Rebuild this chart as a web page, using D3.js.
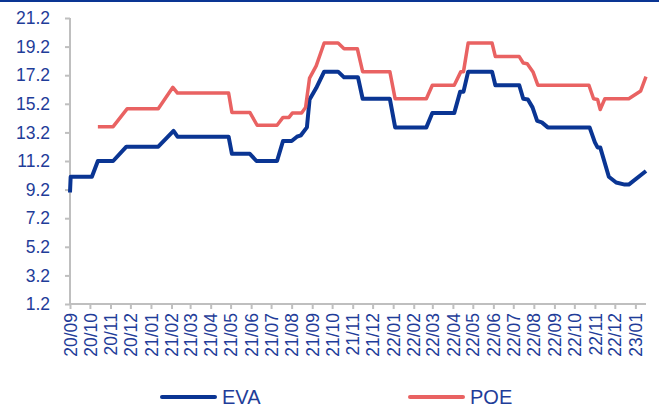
<html>
<head>
<meta charset="utf-8">
<script src="https://d3js.org/d3.v7.min.js"></script>
<style>
body {
	margin: 0;
	background: #fff;
	font-family: Arial, "Liberation Sans", sans-serif;
}
.axis path, .axis line {
	stroke: #bfbfbf;
	stroke-width: 2;
}
.axis text {
	fill: #1f3d99;
	font-size: 17.5px;
	font-family: Arial, "Liberation Sans", sans-serif;
}
</style>
</head>
<body>
<div id="chart"></div>
<script>

// month labels on the x axis
var months = ["20/09","20/10","20/11","20/12","21/01","21/02","21/03","21/04","21/05","21/06",
	"21/07","21/08","21/09","21/10","21/11","21/12","22/01","22/02","22/03","22/04",
	"22/05","22/06","22/07","22/08","22/09","22/10","22/11","22/12","23/01"];

var yTicks = [1.2, 3.2, 5.2, 7.2, 9.2, 11.2, 13.2, 15.2, 17.2, 19.2, 21.2];

// EVA series
var evaDates = ["2020-09-01","2020-09-02","2020-10-04","2020-10-13","2020-11-05","2020-11-25",
	"2021-01-12","2021-02-04","2021-02-10","2021-04-28","2021-05-03","2021-05-30","2021-06-09",
	"2021-07-10","2021-07-19","2021-08-01","2021-08-09","2021-08-15","2021-08-24","2021-08-28",
	"2021-09-07","2021-09-19","2021-10-10","2021-10-19","2021-11-09","2021-11-16","2021-12-27",
	"2022-01-04","2022-02-20","2022-03-01","2022-04-03","2022-04-12","2022-04-17","2022-04-24",
	"2022-05-30","2022-06-04","2022-07-10","2022-07-16","2022-07-23","2022-07-30","2022-08-06",
	"2022-08-13","2022-08-22","2022-10-24","2022-11-01","2022-11-05","2022-11-09","2022-11-22",
	"2022-12-03","2022-12-16","2022-12-22","2023-01-17"];
var evaValues = [9.0, 10.1, 10.1, 11.2, 11.2, 12.2,
	12.2, 13.3, 12.9, 12.9, 11.7, 11.7, 11.2,
	11.2, 12.6, 12.6, 12.9, 13.0, 13.55, 15.5,
	16.3, 17.45, 17.45, 17.05, 17.05, 15.55, 15.55,
	13.55, 13.55, 14.55, 14.55, 16.05, 16.05, 17.45,
	17.45, 16.5, 16.5, 15.55, 15.5, 14.95, 14.0,
	13.9, 13.55, 13.55, 12.5, 12.15, 12.15, 10.1,
	9.7, 9.55, 9.55, 10.5];

// POE series
var poeDates = ["2020-10-13","2020-11-05","2020-11-26","2021-01-12","2021-02-03","2021-02-10",
	"2021-04-28","2021-05-03","2021-05-30","2021-06-10","2021-07-10","2021-07-19","2021-07-28",
	"2021-08-02","2021-08-16","2021-08-22","2021-08-28","2021-09-07","2021-09-19","2021-10-10",
	"2021-10-19","2021-11-08","2021-11-16","2021-12-27","2022-01-04","2022-02-20","2022-03-01",
	"2022-04-03","2022-04-13","2022-04-17","2022-04-24","2022-05-30","2022-06-04","2022-07-10",
	"2022-07-16","2022-07-22","2022-07-31","2022-08-07","2022-10-23","2022-10-30","2022-11-05",
	"2022-11-09","2022-11-16","2022-12-22","2023-01-09","2023-01-17"];
var poeValues = [13.6, 13.6, 14.85, 14.85, 16.35, 15.95,
	15.95, 14.6, 14.6, 13.7, 13.7, 14.25, 14.25,
	14.55, 14.55, 14.95, 17.0, 17.85, 19.45, 19.45,
	19.05, 19.05, 17.45, 17.45, 15.55, 15.55, 16.5,
	16.5, 17.45, 17.45, 19.45, 19.45, 18.5, 18.5,
	18.05, 18.0, 17.4, 16.5, 16.5, 15.55, 15.5,
	14.8, 15.55, 15.55, 16.1, 17.1];

var seriesNames = ["EVA", "POE"];
var colors = ["#0a3593", "#e96262"];

var W = 659, H = 410;
var parse = d3.timeParse("%Y-%m-%d");

var eva = evaDates.map(function(d, i) { return {date: parse(d), value: evaValues[i]}; });
var poe = poeDates.map(function(d, i) { return {date: parse(d), value: poeValues[i]}; });

var x = d3.scaleTime()
	.domain([parse("2020-09-01"), parse("2023-01-17")])
	.range([70, 646]);
var y = d3.scaleLinear()
	.domain([1.2, 21.2])
	.range([304, 18]);

var svg = d3.select("#chart").append("svg")
	.attr("width", W)
	.attr("height", H);

// blue rule at the top
svg.append("rect")
	.attr("x", 0).attr("y", 0)
	.attr("width", W).attr("height", 2)
	.attr("fill", "#0a3593");

// y axis
var yAxis = svg.append("g")
	.attr("class", "axis")
	.attr("transform", "translate(70,0)")
	.call(d3.axisLeft(y).tickValues(yTicks).tickSize(5).tickPadding(15).tickFormat(d3.format(".1f")));
yAxis.select(".domain").attr("d", "M0," + y(21.2) + "V" + y(1.2));

// x axis
var tickDates = months.map(function(m) { return d3.timeParse("%y/%m")(m); });
var xAxis = svg.append("g")
	.attr("class", "axis")
	.attr("transform", "translate(0,304)")
	.call(d3.axisBottom(x).tickValues(tickDates).tickSize(5).tickFormat(d3.timeFormat("%y/%m")));
xAxis.select(".domain").attr("d", "M70,0H646");
xAxis.selectAll("text")
	.attr("transform", "rotate(-90)")
	.attr("text-anchor", "end")
	.attr("x", -9)
	.attr("y", 0)
	.attr("dy", "0.35em");

var line = d3.line()
	.x(function(d) { return x(d.date); })
	.y(function(d) { return y(d.value); });

[eva, poe].forEach(function(data, i) {
	svg.append("path")
		.datum(data)
		.attr("fill", "none")
		.attr("stroke", colors[i])
		.attr("stroke-width", i == 0 ? 4 : 3.5)
		.attr("stroke-linejoin", "round")
		.attr("d", line);
});

// legend
var legendX = [162, 410];
seriesNames.forEach(function(name, i) {
	var lg = svg.append("g").attr("transform", "translate(" + legendX[i] + ",397)");
	lg.append("line")
		.attr("x1", 0).attr("x2", 53)
		.attr("stroke", colors[i])
		.attr("stroke-width", 4)
		.attr("stroke-linecap", "round");
	lg.append("text")
		.attr("x", 60)
		.attr("dy", "0.36em")
		.attr("fill", "#1f3d99")
		.attr("font-size", 20)
		.text(name);
});

</script>
</body>
</html>
